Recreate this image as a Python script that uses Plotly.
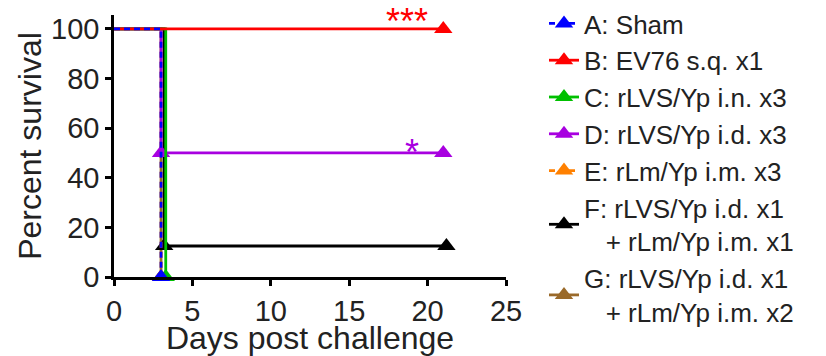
import plotly.graph_objects as go

# ---- data ----
names = ["A: Sham", "B: EV76 s.q. x1", "C: rLVS/Yp i.n. x3", "D: rLVS/Yp i.d. x3",
         "E: rLm/Yp i.m. x3", "F: rLVS/Yp i.d. x1<br>   + rLm/Yp i.m. x1",
         "G: rLVS/Yp i.d. x1<br>   + rLm/Yp i.m. x2"]
days_A = [0, 3]
surv_A = [100, 0]
days_B = [0, 21]
surv_B = [100, 100]
days_C = [0, 3.3]
surv_C = [100, 0]
days_D = [0, 3, 21]
surv_D = [100, 50, 50]
days_E = [0, 3]
surv_E = [100, 0]
days_F = [0, 3.2, 21.2]
surv_F = [100, 12.5, 12.5]
days_G = [0, 3]
surv_G = [100, 0]
x_ticks = [0, 5, 10, 15, 20, 25]
y_ticks = [0, 20, 40, 60, 80, 100]
sig_labels = ["***", "*"]
sig_x = [18.7, 19.0]
sig_y = [105.5, 52.5]

colors = ["#0000FF", "#FF0000", "#00C000", "#A800E0", "#FF8000", "#000000", "#9A6A2A"]
dashes = ["6px,4px", "solid", "solid", "solid", "6px,4px", "solid", "solid"]
series = [(days_A, surv_A), (days_B, surv_B), (days_C, surv_C), (days_D, surv_D),
          (days_E, surv_E), (days_F, surv_F), (days_G, surv_G)]

FONT = "Liberation Sans, Arial, sans-serif"
fig = go.Figure()
# draw in reverse so A is on top
for i in reversed(range(7)):
    xs, ys = series[i]
    sizes = [0] + [16] * (len(xs) - 1)
    fig.add_trace(go.Scatter(
        x=xs, y=ys, name=names[i], mode="lines+markers", legendgroup=str(i), showlegend=False,
        line=dict(color=colors[i], width=2.8, dash=dashes[i], shape="hv"),
        marker=dict(symbol="triangle-up", size=sizes, color=colors[i], opacity=1,
                    line=dict(width=0)),
        cliponaxis=False, hoverinfo="skip",
    ))
# legend entries (A..G)
for i in range(7):
    fig.add_trace(go.Scatter(
        x=[None], y=[None], name=names[i], mode="lines+markers", legendgroup=str(i),
        line=dict(color=colors[i], width=2.8, dash=dashes[i]),
        marker=dict(symbol="triangle-up", size=16, color=colors[i], line=dict(width=0)),
    ))

for lab, sx, sy, c in zip(sig_labels, sig_x, sig_y, [colors[1], colors[3]]):
    fig.add_annotation(x=sx, y=sy, text=lab, showarrow=False, yanchor="middle",
                       yshift=-6, font=dict(size=36, color=c, family=FONT))

fig.update_layout(
    width=826, height=356,
    margin=dict(l=114, r=320, t=15, b=79),
    paper_bgcolor="white", plot_bgcolor="white",
    font=dict(family=FONT, color="#222222"),
    showlegend=True,
    legend=dict(traceorder="normal", x=544 / 826, xref="container", xanchor="left",
                y=1.0, yref="container", yanchor="top", maxheight=400,
                font=dict(size=26, family=FONT, color="#222222"),
                bgcolor="rgba(0,0,0,0)", itemwidth=30),
)
fig.update_xaxes(range=[0, 25], tickvals=x_ticks, showline=True, linecolor="black", linewidth=2.5,
                 ticks="outside", ticklen=6, tickwidth=2.5, tickcolor="black", automargin=False,
                 showgrid=False, zeroline=False, tickfont=dict(size=29, family=FONT, color="#222222"),
                 title=dict(text="Days post challenge", font=dict(size=32, family=FONT, color="#222222"), standoff=0))
fig.update_yaxes(range=[0, 105.6], tickvals=y_ticks, showline=True, linecolor="black", linewidth=2.5,
                 ticks="outside", ticklen=6, tickwidth=2.5, tickcolor="black", automargin=False,
                 showgrid=False, zeroline=False, tickfont=dict(size=29, family=FONT, color="#222222"),
                 title=dict(text="Percent survival", font=dict(size=32, family=FONT, color="#222222"), standoff=0))

fig.write_html("out.html", config={"displayModeBar": False},
               post_script="document.body.style.margin='0';")
